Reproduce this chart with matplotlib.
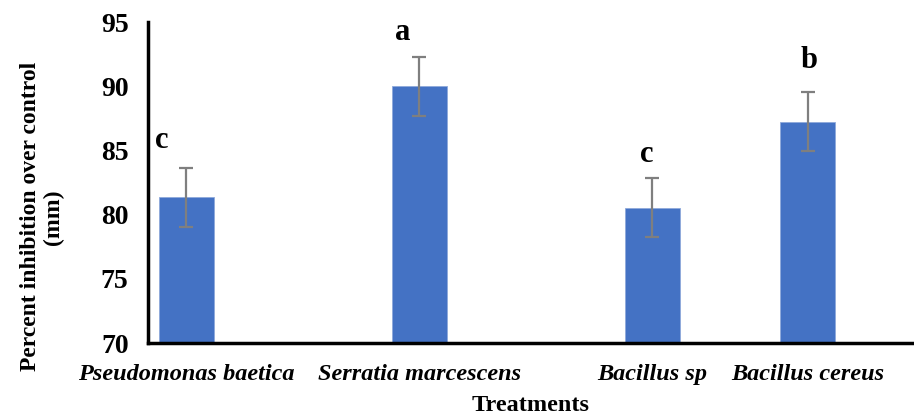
import matplotlib
matplotlib.use("Agg")
import matplotlib.pyplot as plt
import numpy as np

categories = ["Pseudomonas baetica", "Serratia marcescens", "Bacillus sp", "Bacillus cereus"]
values = [81.35, 90.0, 80.55, 87.25]
errors = [2.3, 2.3, 2.3, 2.3]
letters = ["c", "a", "c", "b"]
letter_y = [85.8, 94.2, 84.7, 92.0]
letter_dx = [-0.105, -0.07, -0.024, 0.004]
positions = [0.0, 1.0, 2.0, 2.667]

plt.rcParams['font.family'] = ['Liberation Serif', 'DejaVu Serif']

fig = plt.figure(figsize=(9.14, 4.17), dpi=100)
ax = fig.add_axes([148/914, 1 - 343/417, (913 - 148)/914, (343 - 22)/417])

ax.bar(positions, values, width=0.236, color="#4472C4", edgecolor="#8EA9DB", linewidth=0.6,
       yerr=errors, error_kw=dict(ecolor="#7f7f7f", elinewidth=1.6, capsize=5, capthick=1.6),
       bottom=0, zorder=2)

for x, dx, ly, lt in zip(positions, letter_dx, letter_y, letters):
    ax.text(x + dx, ly, lt, ha="center", va="center", fontsize=22, fontweight="bold")

ax.set_ylim(70, 95)
ax.set_xlim(-0.165, 3.118)
ax.set_yticks(np.arange(70, 96, 5))
ax.set_yticklabels([str(v) for v in range(70, 96, 5)], fontsize=20, fontweight="bold")
ax.set_xticks(positions)
ax.set_xticklabels(categories, fontsize=17.5, fontweight="bold", fontstyle="italic")
ax.tick_params(axis="both", length=0)
ax.tick_params(axis="y", pad=14)
ax.tick_params(axis="x", pad=15)

for s in ["top", "right"]:
    ax.spines[s].set_visible(False)
ax.spines["left"].set_linewidth(2.5)
ax.spines["bottom"].set_linewidth(2.5)

ax.set_ylabel("Percent inhibition over control\n(mm)", fontsize=17, fontweight="bold",
              linespacing=1.1)
ax.yaxis.set_label_coords(-0.11, 0.393)
ax.set_xlabel("Treatments", fontsize=17.5, fontweight="bold", labelpad=7)

fig.savefig("out.png", dpi=100)
